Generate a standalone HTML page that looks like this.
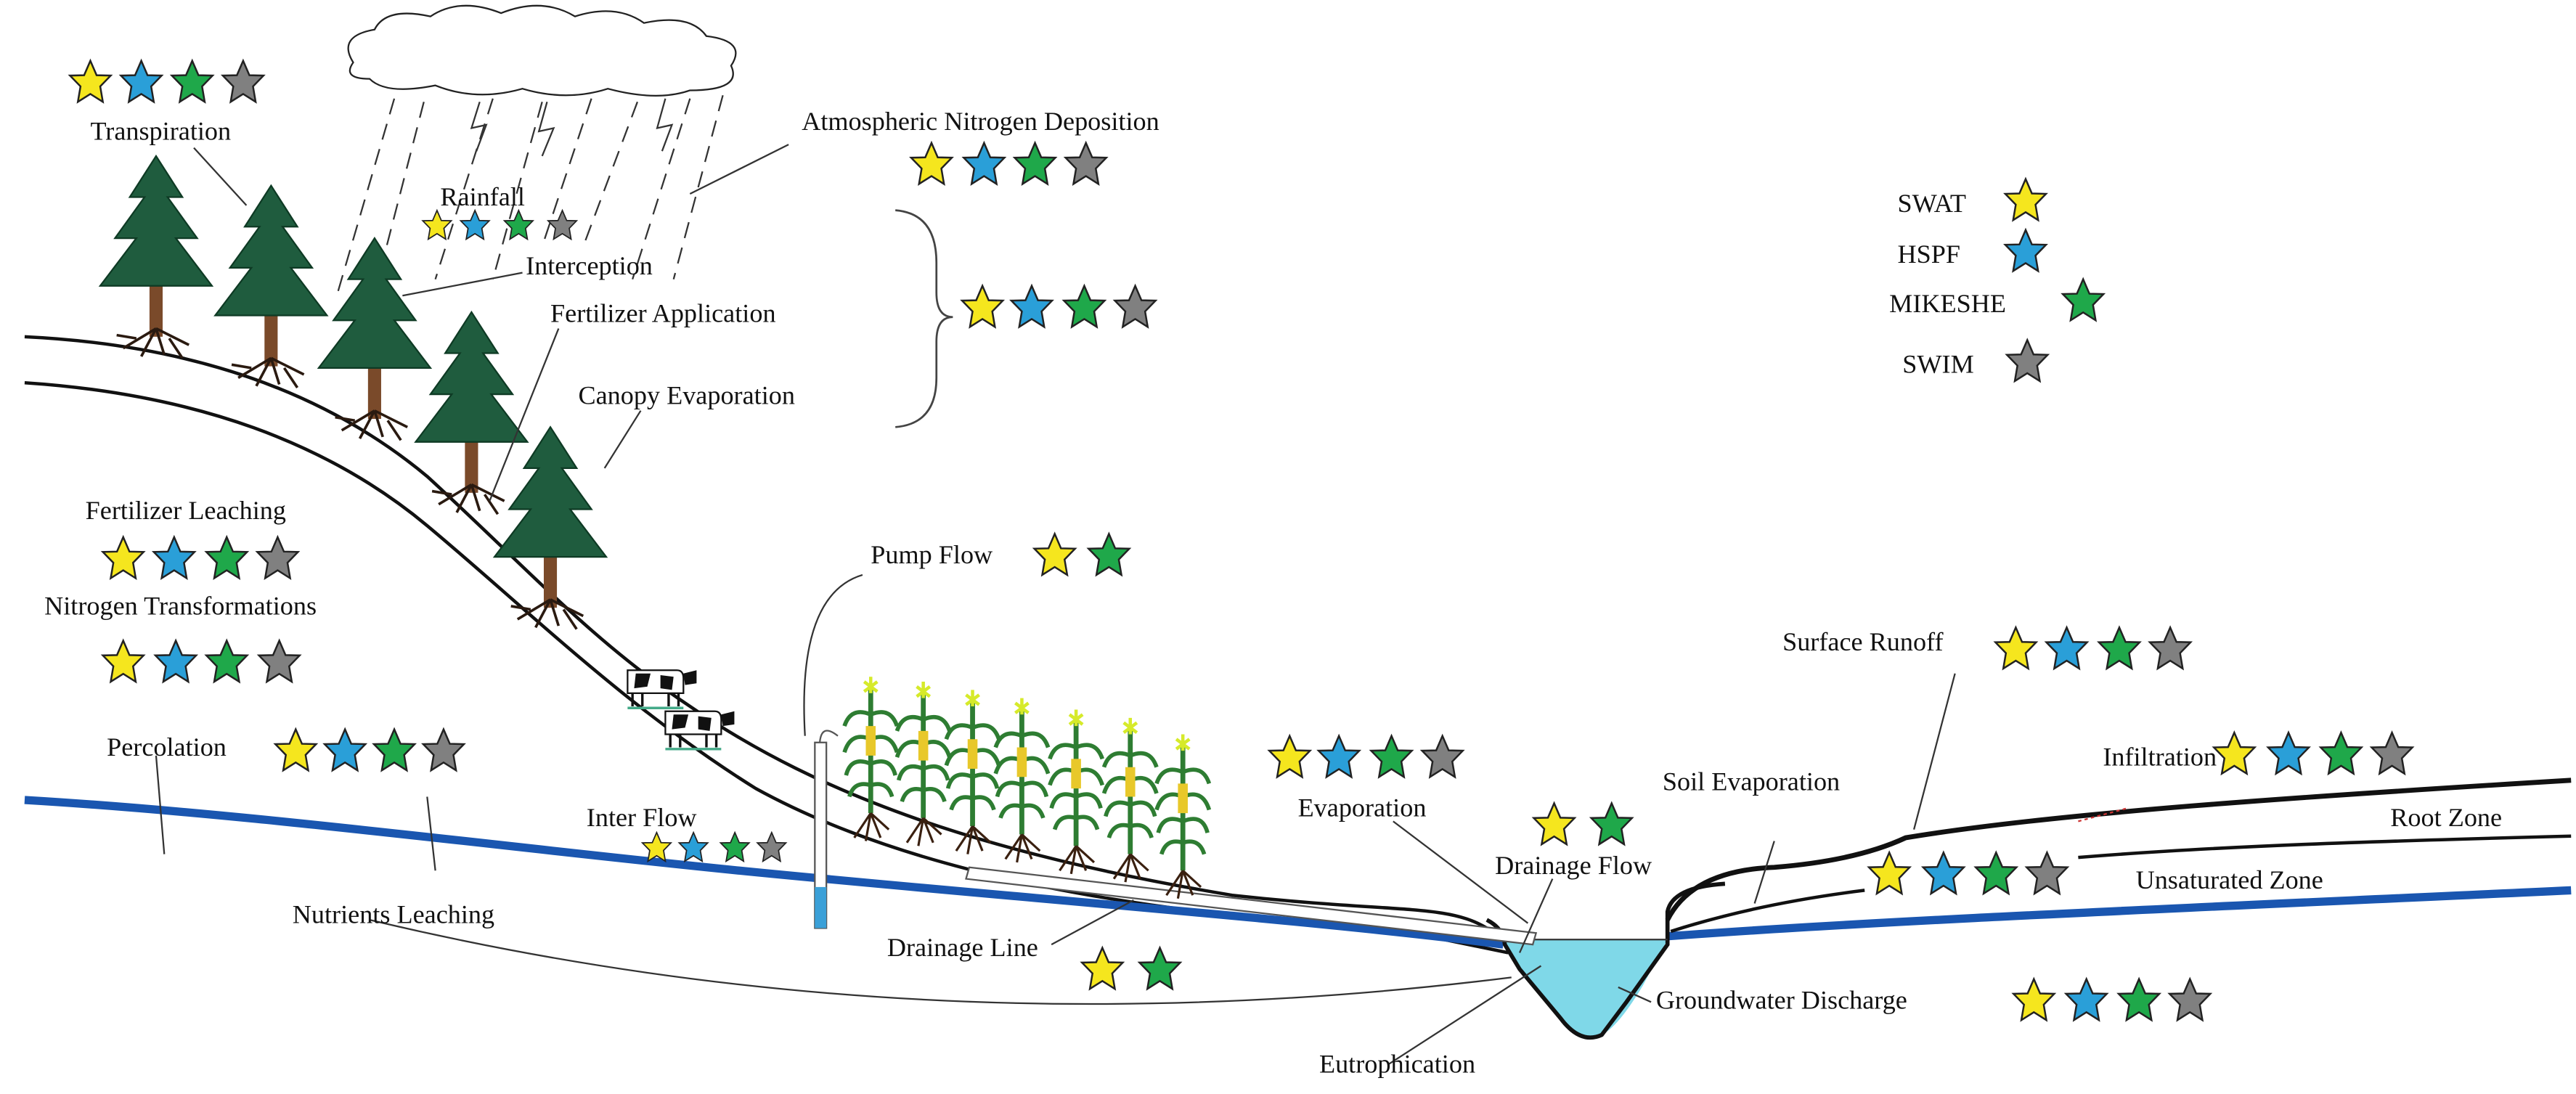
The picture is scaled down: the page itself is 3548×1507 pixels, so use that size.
<!DOCTYPE html>
<html><head><meta charset="utf-8"><style>
html,body{margin:0;padding:0;background:#fff;}
svg{display:block;}
text{font-family:"Liberation Serif",serif;font-size:16px;fill:#111;font-weight:normal;}
</style></head><body>
<svg width="3548" height="1507" viewBox="0 0 1568 666" xmlns="http://www.w3.org/2000/svg">
<defs>
<path id="st" d="M0,-13 L3.8,-4.2 L12.4,-4 L6,2.6 L7.6,12 L0,7.2 L-7.6,12 L-6,2.6 L-12.4,-4 L-3.8,-4.2 Z" stroke="#222" stroke-width="1.1"/>
<g id="tree">
<rect x="-4" y="60" width="8" height="45" fill="#7a4a2a"/>
<path d="M0,-5 L-16,20 L-7,20 L-25,45 L-12,45 L-34,74 L34,74 L12,45 L25,45 L7,20 L16,20 Z" fill="#1f5c3e" stroke="#0e3a24" stroke-width="1"/>
<path d="M0,100 L-20,112 M0,100 L-9,117 M0,100 L5,116 M0,100 L20,110 M-12,106 L-24,104 M8,106 L16,118" stroke="#2a1a10" stroke-width="1.6" fill="none"/>
</g>
<g id="corn">
<path d="M0,0 L0,75" stroke="#2e7d32" stroke-width="3"/>
<path d="M0,15 Q-12,10 -16,22 M0,15 Q12,10 16,22 M0,30 Q-12,25 -16,38 M0,30 Q12,25 16,38 M0,45 Q-12,40 -15,52 M0,45 Q12,40 15,52 M0,58 Q-10,55 -13,65 M0,58 Q10,55 13,65" stroke="#2e7d32" stroke-width="2.5" fill="none"/>
<path d="M-3,22 L3,22 L3,40 L-3,40Z" fill="#e8c82a"/>
<path d="M0,-8 L0,2 M-4,-5 L4,1 M4,-5 L-4,1" stroke="#d6ea2a" stroke-width="2"/>
<path d="M0,75 L-10,90 M0,75 L-3,92 M0,75 L6,90 M0,75 L11,85" stroke="#3a2010" stroke-width="1.4" fill="none"/>
</g>
<g id="cow">
<path d="M0,0 L30,0 Q34,0 34,5 L34,14 L0,14 Z" fill="#fff" stroke="#111" stroke-width="1"/>
<path d="M5,2 L14,2 L12,10 L4,11Z M20,3 L28,4 L27,12 L20,11Z" fill="#111"/>
<path d="M34,2 L42,0 L42,8 L35,9Z" fill="#111"/>
<path d="M3,14 L3,22 M9,14 L9,22 M25,14 L25,22 M31,14 L31,22" stroke="#111" stroke-width="1.5"/>
<path d="M0,23 L34,23" stroke="#4a8" stroke-width="1.5"/>
</g>
</defs>

<path d="M215,38 Q205,22 228,18 Q235,4 262,10 Q280,-2 305,8 Q330,-2 350,10 Q375,2 392,14 Q420,8 430,22 Q455,25 445,40 Q452,55 420,55 Q400,62 370,54 Q345,62 318,54 Q290,62 265,52 Q235,58 225,48 Q208,48 215,38Z" fill="#fff" stroke="#222" stroke-width="1"/>
<g stroke="#333" stroke-width="1" stroke-dasharray="10,6">
<path d="M240,60 L205,180"/><path d="M258,62 L225,190"/><path d="M300,60 L265,170"/><path d="M330,62 L300,170"/><path d="M360,60 L330,150"/><path d="M388,62 L355,150"/><path d="M420,60 L385,170"/><path d="M440,58 L410,170"/>
</g>
<path d="M292,62 L287,78 L296,76 L290,92" stroke="#333" fill="none"/>
<path d="M333,62 L328,80 L337,78 L330,95" stroke="#333" fill="none"/>
<path d="M405,60 L400,78 L409,76 L403,92" stroke="#333" fill="none"/>

<path d="M15,205 C120,210 200,240 260,290 C320,345 360,390 420,430 C500,485 600,520 750,545 C850,556 880,550 905,565 L918,575" fill="none" stroke="#111" stroke-width="2"/>
<path d="M15,233 C120,240 200,270 260,320 C320,370 380,430 460,480 C560,535 700,556 850,566 L918,580" fill="none" stroke="#111" stroke-width="2"/>
<path d="M15,487 C150,495 300,515 450,530 C600,545 800,560 915,575" fill="none" stroke="#1a56b0" stroke-width="5"/>
<path d="M1015,570 C1150,560 1350,552 1565,542" fill="none" stroke="#1a56b0" stroke-width="5"/>
<path d="M915,572 L1015,572 L1000,600 Q985,625 975,630 Q960,635 950,620 L925,590 Z" fill="#7fd8e8"/>
<path d="M905,560 Q915,565 916,575 L925,590 L950,620 Q962,636 975,630 L990,610 L1015,575 L1015,555 Q1018,540 1050,538" fill="none" stroke="#111" stroke-width="2.5"/>
<path d="M915,572 L1015,572" stroke="#333" stroke-width="1"/>
<path d="M1015,560 Q1030,530 1080,528 Q1130,524 1160,510 C1250,495 1400,485 1565,475" fill="none" stroke="#111" stroke-width="3"/>
<path d="M1017,567 Q1070,550 1135,542" fill="none" stroke="#111" stroke-width="2"/>
<path d="M1265,522 C1350,515 1450,512 1565,509" fill="none" stroke="#111" stroke-width="2"/>
<path d="M590,528 L935,568 L933,575 L588,535 Z" fill="#fff" stroke="#555" stroke-width="1"/>
<rect x="496" y="452" width="7" height="113" fill="#fff" stroke="#555"/>
<rect x="496" y="540" width="7" height="25" fill="#3aa0d8"/>
<path d="M499,452 Q500,440 510,448" fill="none" stroke="#555"/>

<use href="#tree" x="95" y="100"/>
<use href="#tree" x="165" y="118"/>
<use href="#tree" x="228" y="150"/>
<use href="#tree" x="287" y="195"/>
<use href="#tree" x="335" y="265"/>
<use href="#cow" x="382" y="408"/>
<use href="#cow" x="405" y="433"/>
<use href="#corn" x="530" y="420"/><use href="#corn" x="562" y="423"/><use href="#corn" x="592" y="428"/><use href="#corn" x="622" y="433"/><use href="#corn" x="655" y="440"/><use href="#corn" x="688" y="445"/><use href="#corn" x="720" y="455"/>

<path d="M545,128 Q570,130 570,160 L570,178 Q570,193 580,193 Q570,193 570,208 L570,230 Q570,258 545,260" fill="none" stroke="#444" stroke-width="1.2"/>

<g stroke="#333" stroke-width="1" fill="none">
<path d="M118,90 L150,125"/><path d="M480,88 L420,118"/><path d="M318,166 L245,180"/>
<path d="M340,200 L298,305"/><path d="M390,250 L368,285"/>
<path d="M95,460 L100,520"/><path d="M260,485 L265,530"/><path d="M225,560 Q560,640 920,595"/>
<path d="M525,350 Q485,362 490,448"/><path d="M640,575 L690,548"/>
<path d="M848,500 L930,562"/><path d="M945,535 L925,580"/><path d="M1080,512 L1068,550"/>
<path d="M1190,410 L1165,505"/><path d="M1005,610 L985,601"/><path d="M845,648 L938,588"/>
</g>
<path d="M1265,500 L1295,492" stroke="#c33" stroke-width="1" stroke-dasharray="2,2"/>

<text x="55" y="85">Transpiration</text>
<text x="488" y="79">Atmospheric Nitrogen Deposition</text>
<text x="268" y="125">Rainfall</text>
<text x="320" y="167">Interception</text>
<text x="335" y="196">Fertilizer Application</text>
<text x="352" y="246">Canopy Evaporation</text>
<text x="1155" y="129">SWAT</text>
<text x="1155" y="160">HSPF</text>
<text x="1150" y="190">MIKESHE</text>
<text x="1158" y="227">SWIM</text>
<text x="52" y="316">Fertilizer  Leaching</text>
<text x="27" y="374">Nitrogen Transformations</text>
<text x="65" y="460">Percolation</text>
<text x="530" y="343">Pump Flow</text>
<text x="1085" y="396">Surface Runoff</text>
<text x="1280" y="466">Infiltration</text>
<text x="1455" y="503">Root Zone</text>
<text x="1300" y="541">Unsaturated Zone</text>
<text x="1012" y="481">Soil Evaporation</text>
<text x="790" y="497">Evaporation</text>
<text x="910" y="532">Drainage Flow</text>
<text x="357" y="503">Inter Flow</text>
<text x="178" y="562">Nutrients Leaching</text>
<text x="540" y="582">Drainage Line</text>
<text x="1008" y="614">Groundwater Discharge</text>
<text x="803" y="653">Eutrophication</text>

<g>
<use href="#st" x="55" y="50" fill="#f5e61e"/><use href="#st" x="86" y="50" fill="#2a9fd8"/><use href="#st" x="117" y="50" fill="#1fa84a"/><use href="#st" x="148" y="50" fill="#808080"/>
<use href="#st" x="567" y="100" fill="#f5e61e"/><use href="#st" x="599" y="100" fill="#2a9fd8"/><use href="#st" x="630" y="100" fill="#1fa84a"/><use href="#st" x="661" y="100" fill="#808080"/>
<use href="#st" x="598" y="187" fill="#f5e61e"/><use href="#st" x="628" y="187" fill="#2a9fd8"/><use href="#st" x="660" y="187" fill="#1fa84a"/><use href="#st" x="691" y="187" fill="#808080"/>
<use href="#st" x="1233" y="122" fill="#f5e61e"/><use href="#st" x="1233" y="153" fill="#2a9fd8"/><use href="#st" x="1268" y="183" fill="#1fa84a"/><use href="#st" x="1234" y="220" fill="#808080"/>
<use href="#st" x="75" y="340" fill="#f5e61e"/><use href="#st" x="106" y="340" fill="#2a9fd8"/><use href="#st" x="138" y="340" fill="#1fa84a"/><use href="#st" x="169" y="340" fill="#808080"/>
<use href="#st" x="75" y="403" fill="#f5e61e"/><use href="#st" x="107" y="403" fill="#2a9fd8"/><use href="#st" x="138" y="403" fill="#1fa84a"/><use href="#st" x="170" y="403" fill="#808080"/>
<use href="#st" x="180" y="457" fill="#f5e61e"/><use href="#st" x="210" y="457" fill="#2a9fd8"/><use href="#st" x="240" y="457" fill="#1fa84a"/><use href="#st" x="270" y="457" fill="#808080"/>
<use href="#st" x="642" y="338" fill="#f5e61e"/><use href="#st" x="675" y="338" fill="#1fa84a"/>
<use href="#st" x="1227" y="395" fill="#f5e61e"/><use href="#st" x="1258" y="395" fill="#2a9fd8"/><use href="#st" x="1290" y="395" fill="#1fa84a"/><use href="#st" x="1321" y="395" fill="#808080"/>
<use href="#st" x="1360" y="459" fill="#f5e61e"/><use href="#st" x="1393" y="459" fill="#2a9fd8"/><use href="#st" x="1425" y="459" fill="#1fa84a"/><use href="#st" x="1456" y="459" fill="#808080"/>
<use href="#st" x="1150" y="532" fill="#f5e61e"/><use href="#st" x="1183" y="532" fill="#2a9fd8"/><use href="#st" x="1215" y="532" fill="#1fa84a"/><use href="#st" x="1246" y="532" fill="#808080"/>
<use href="#st" x="785" y="461" fill="#f5e61e"/><use href="#st" x="815" y="461" fill="#2a9fd8"/><use href="#st" x="847" y="461" fill="#1fa84a"/><use href="#st" x="878" y="461" fill="#808080"/>
<use href="#st" x="946" y="502" fill="#f5e61e"/><use href="#st" x="981" y="502" fill="#1fa84a"/>
<use href="#st" x="671" y="590" fill="#f5e61e"/><use href="#st" x="706" y="590" fill="#1fa84a"/>
<use href="#st" x="1238" y="609" fill="#f5e61e"/><use href="#st" x="1270" y="609" fill="#2a9fd8"/><use href="#st" x="1302" y="609" fill="#1fa84a"/><use href="#st" x="1333" y="609" fill="#808080"/>
</g>
<g transform="scale(0.7)">
<use href="#st" x="380" y="196" fill="#f5e61e"/><use href="#st" x="413" y="196" fill="#2a9fd8"/><use href="#st" x="451" y="196" fill="#1fa84a"/><use href="#st" x="489" y="196" fill="#808080"/>
<use href="#st" x="571" y="737" fill="#f5e61e"/><use href="#st" x="603" y="737" fill="#2a9fd8"/><use href="#st" x="639" y="737" fill="#1fa84a"/><use href="#st" x="671" y="737" fill="#808080"/>
</g>
</svg>
</body></html>
